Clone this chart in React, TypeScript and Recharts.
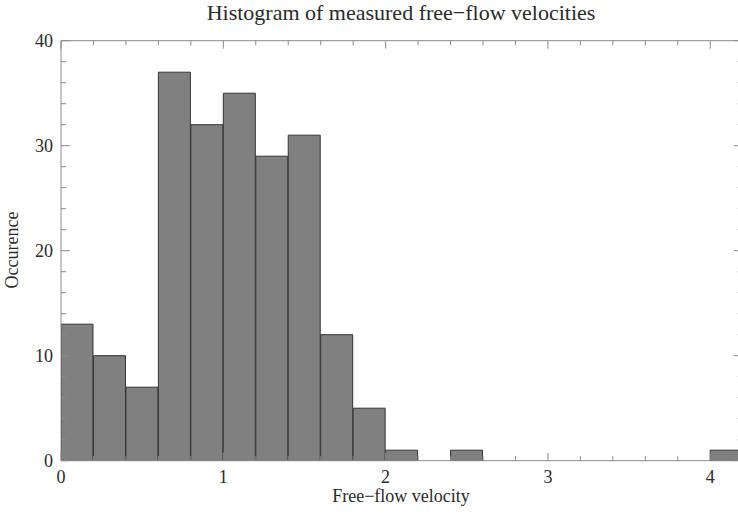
import React from 'react';
import { ComposedChart, Bar, XAxis, YAxis } from 'recharts';

const binStarts = [0, 0.2, 0.4, 0.6, 0.8, 1.0, 1.2, 1.4, 1.6, 1.8, 2.0, 2.2, 2.4, 2.6, 2.8, 3.0, 3.2, 3.4, 3.6, 3.8, 4.0];
const binWidth = 0.2;
const counts = [13, 10, 7, 37, 32, 35, 29, 31, 12, 5, 1, 0, 1, 0, 0, 0, 0, 0, 0, 0, 1];
const xDomain = [0, 4.2];
const yDomain = [0, 40];
const xTicks = [0, 0.2, 0.4, 0.6, 0.8, 1, 1.2, 1.4, 1.6, 1.8, 2, 2.2, 2.4, 2.6, 2.8, 3, 3.2, 3.4, 3.6, 3.8, 4, 4.2];
const xMajorTicks = [0, 1, 2, 3, 4];
const yTicks = [0, 2, 4, 6, 8, 10, 12, 14, 16, 18, 20, 22, 24, 26, 28, 30, 32, 34, 36, 38, 40];
const yMajorTicks = [0, 10, 20, 30, 40];

const title = 'Histogram of measured free\u2212flow velocities';
const xLabel = 'Free\u2212flow velocity';
const yLabel = 'Occurence';

const data = binStarts.map((s, i) => ({ mid: s + binWidth / 2, count: counts[i] }));

const FONT = '"Liberation Serif", "Times New Roman", serif';
const AX = '#8a8a8a';
const TXT = '#2a2a2a';

const isMajorX = (v: number) => xMajorTicks.indexOf(v) >= 0;
const isMajorY = (v: number) => yMajorTicks.indexOf(v) >= 0;

const BottomTick = (props: any) => {
  const { x, y, payload } = props;
  const major = isMajorX(payload.value);
  return (
    <g>
      <line x1={x} x2={x} y1={y} y2={y - (major ? 8 : 4.5)} stroke={AX} strokeWidth={1} />
      {major && (
        <text x={x} y={y + 21.8} textAnchor="middle" fontFamily={FONT} fontSize={18} fill={TXT}>
          {payload.value}
        </text>
      )}
    </g>
  );
};

const TopTick = (props: any) => {
  const { x, y, payload } = props;
  const major = isMajorX(payload.value);
  return <line x1={x} x2={x} y1={y} y2={y + (major ? 8 : 4.5)} stroke={AX} strokeWidth={1} />;
};

const LeftTick = (props: any) => {
  const { x, y, payload } = props;
  const major = isMajorY(payload.value);
  return (
    <g>
      <line x1={x} x2={x + (major ? 9 : 5)} y1={y} y2={y} stroke={AX} strokeWidth={1} />
      {major && (
        <text x={x - 8} y={y + 6.4} textAnchor="end" fontFamily={FONT} fontSize={18} fill={TXT}>
          {payload.value}
        </text>
      )}
    </g>
  );
};

const RightTick = (props: any) => {
  const { x, y, payload } = props;
  const major = isMajorY(payload.value);
  return <line x1={x} x2={x - (major ? 9 : 5)} y1={y} y2={y} stroke={AX} strokeWidth={1} />;
};

export default function App() {
  return (
    <div style={{ position: 'fixed', left: 0, top: 0, width: 738, height: 522, overflow: 'hidden', background: '#fff' }}>
      <div style={{ position: 'absolute', left: 0, top: 0 }}>
        <ComposedChart
          width={745}
          height={522}
          data={data}
          margin={{ top: 39.7, right: 1.3, bottom: 31.3, left: 8 }}
          barCategoryGap={0}
          barGap={0}
        >
          <XAxis xAxisId="b" dataKey="mid" type="number" domain={xDomain} allowDataOverflow ticks={xTicks} interval={0}
            tickSize={0} tickMargin={0} tickLine={false} height={30} axisLine={{ stroke: AX }} tick={<BottomTick />} />
          <XAxis xAxisId="t" dataKey="mid" orientation="top" type="number" domain={xDomain} allowDataOverflow ticks={xTicks} interval={0}
            tickSize={0} tickMargin={0} tickLine={false} height={1} axisLine={{ stroke: AX }} tick={<TopTick />} />
          <YAxis yAxisId="l" type="number" domain={yDomain} allowDataOverflow ticks={yTicks} interval={0}
            tickSize={0} tickMargin={0} tickLine={false} width={53} axisLine={{ stroke: AX }} tick={<LeftTick />} />
          <YAxis yAxisId="r" orientation="right" type="number" domain={yDomain} allowDataOverflow ticks={yTicks} interval={0}
            tickSize={0} tickMargin={0} tickLine={false} width={1} axisLine={{ stroke: AX }} tick={<RightTick />} />
          <Bar xAxisId="b" yAxisId="l" dataKey="count" fill="#808080" stroke="#333333" strokeWidth={1}
            isAnimationActive={false} />
        </ComposedChart>
      </div>
      <svg width={738} height={522} style={{ position: 'absolute', left: 0, top: 0, pointerEvents: 'none' }}>
        <text x={401} y={19.5} textAnchor="middle" fontFamily={FONT} fontSize={22} fill={TXT}>{title}</text>
        <text x={401} y={502} textAnchor="middle" fontFamily={FONT} fontSize={18} fill={TXT}>{xLabel}</text>
        <text x={18.3} y={250} textAnchor="middle" fontFamily={FONT} fontSize={18} fill={TXT}
          transform="rotate(-90 18.3 250)">{yLabel}</text>
      </svg>
    </div>
  );
}
